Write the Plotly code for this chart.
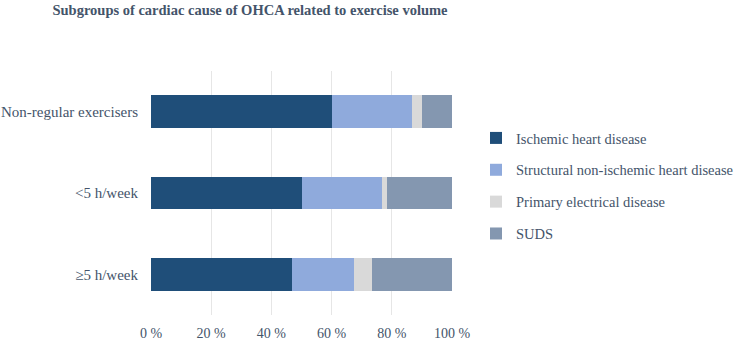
import plotly.graph_objects as go

categories = ["Non-regular exercisers", "<5 h/week", "\u22655 h/week"]
series_names = ["Ischemic heart disease", "Structural non-ischemic heart disease",
                "Primary electrical disease", "SUDS"]
ischemic = [60.0, 50.0, 47.0]
structural = [26.7, 26.7, 20.5]
primary = [3.3, 1.7, 6.0]
suds = [10.0, 21.6, 26.5]
tick_vals = [0, 20, 40, 60, 80, 100]
tick_text = ["0 %", "20 %", "40 %", "60 %", "80 %", "100 %"]

colors = ["#1f4e79", "#8faadc", "#d9d9d9", "#8497b0"]
font_fam = "Liberation Serif, Times New Roman, serif"
text_col = "#44546a"

fig = go.Figure()
for name, vals, col in zip(series_names, [ischemic, structural, primary, suds], colors):
    fig.add_trace(go.Bar(
        y=categories, x=vals, name=name, orientation="h",
        marker=dict(color=col, line=dict(width=0)),
        legendgroup=name, hoverinfo="x+name",
    ))

fig.update_layout(
    barmode="stack",
    bargap=0.595,
    width=741, height=340,
    margin=dict(l=151, r=289, t=71, b=25),
    paper_bgcolor="white", plot_bgcolor="white",
    font=dict(family=font_fam, size=14, color=text_col),
    title=dict(text="<b>Subgroups of cardiac cause of OHCA related to exercise volume</b>",
               x=250/741, xanchor="center", xref="container", y=1 - 10/340, yanchor="middle",
               font=dict(family=font_fam, size=14.5, color=text_col)),
    legend=dict(xref="container", yref="container", x=476/741, y=1 - 122/340,
                xanchor="left", yanchor="top", traceorder="grouped",
                tracegroupgap=10, font=dict(size=14.5, color=text_col),
                itemwidth=30),
    showlegend=True,
)
fig.update_xaxes(range=[0, 100], tickvals=tick_vals, ticktext=tick_text,
                 showgrid=True, gridcolor="#e6e6e6", gridwidth=1, zeroline=False,
                 showline=False, ticks="", ticklabelstandoff=8, fixedrange=True,
                 automargin=False)
fig.update_yaxes(autorange="reversed", showgrid=False, zeroline=False, showline=False,
                 ticks="", ticklabelstandoff=12, fixedrange=True, automargin=False,
                 tickfont=dict(size=15))

fig.write_html("out.html")
